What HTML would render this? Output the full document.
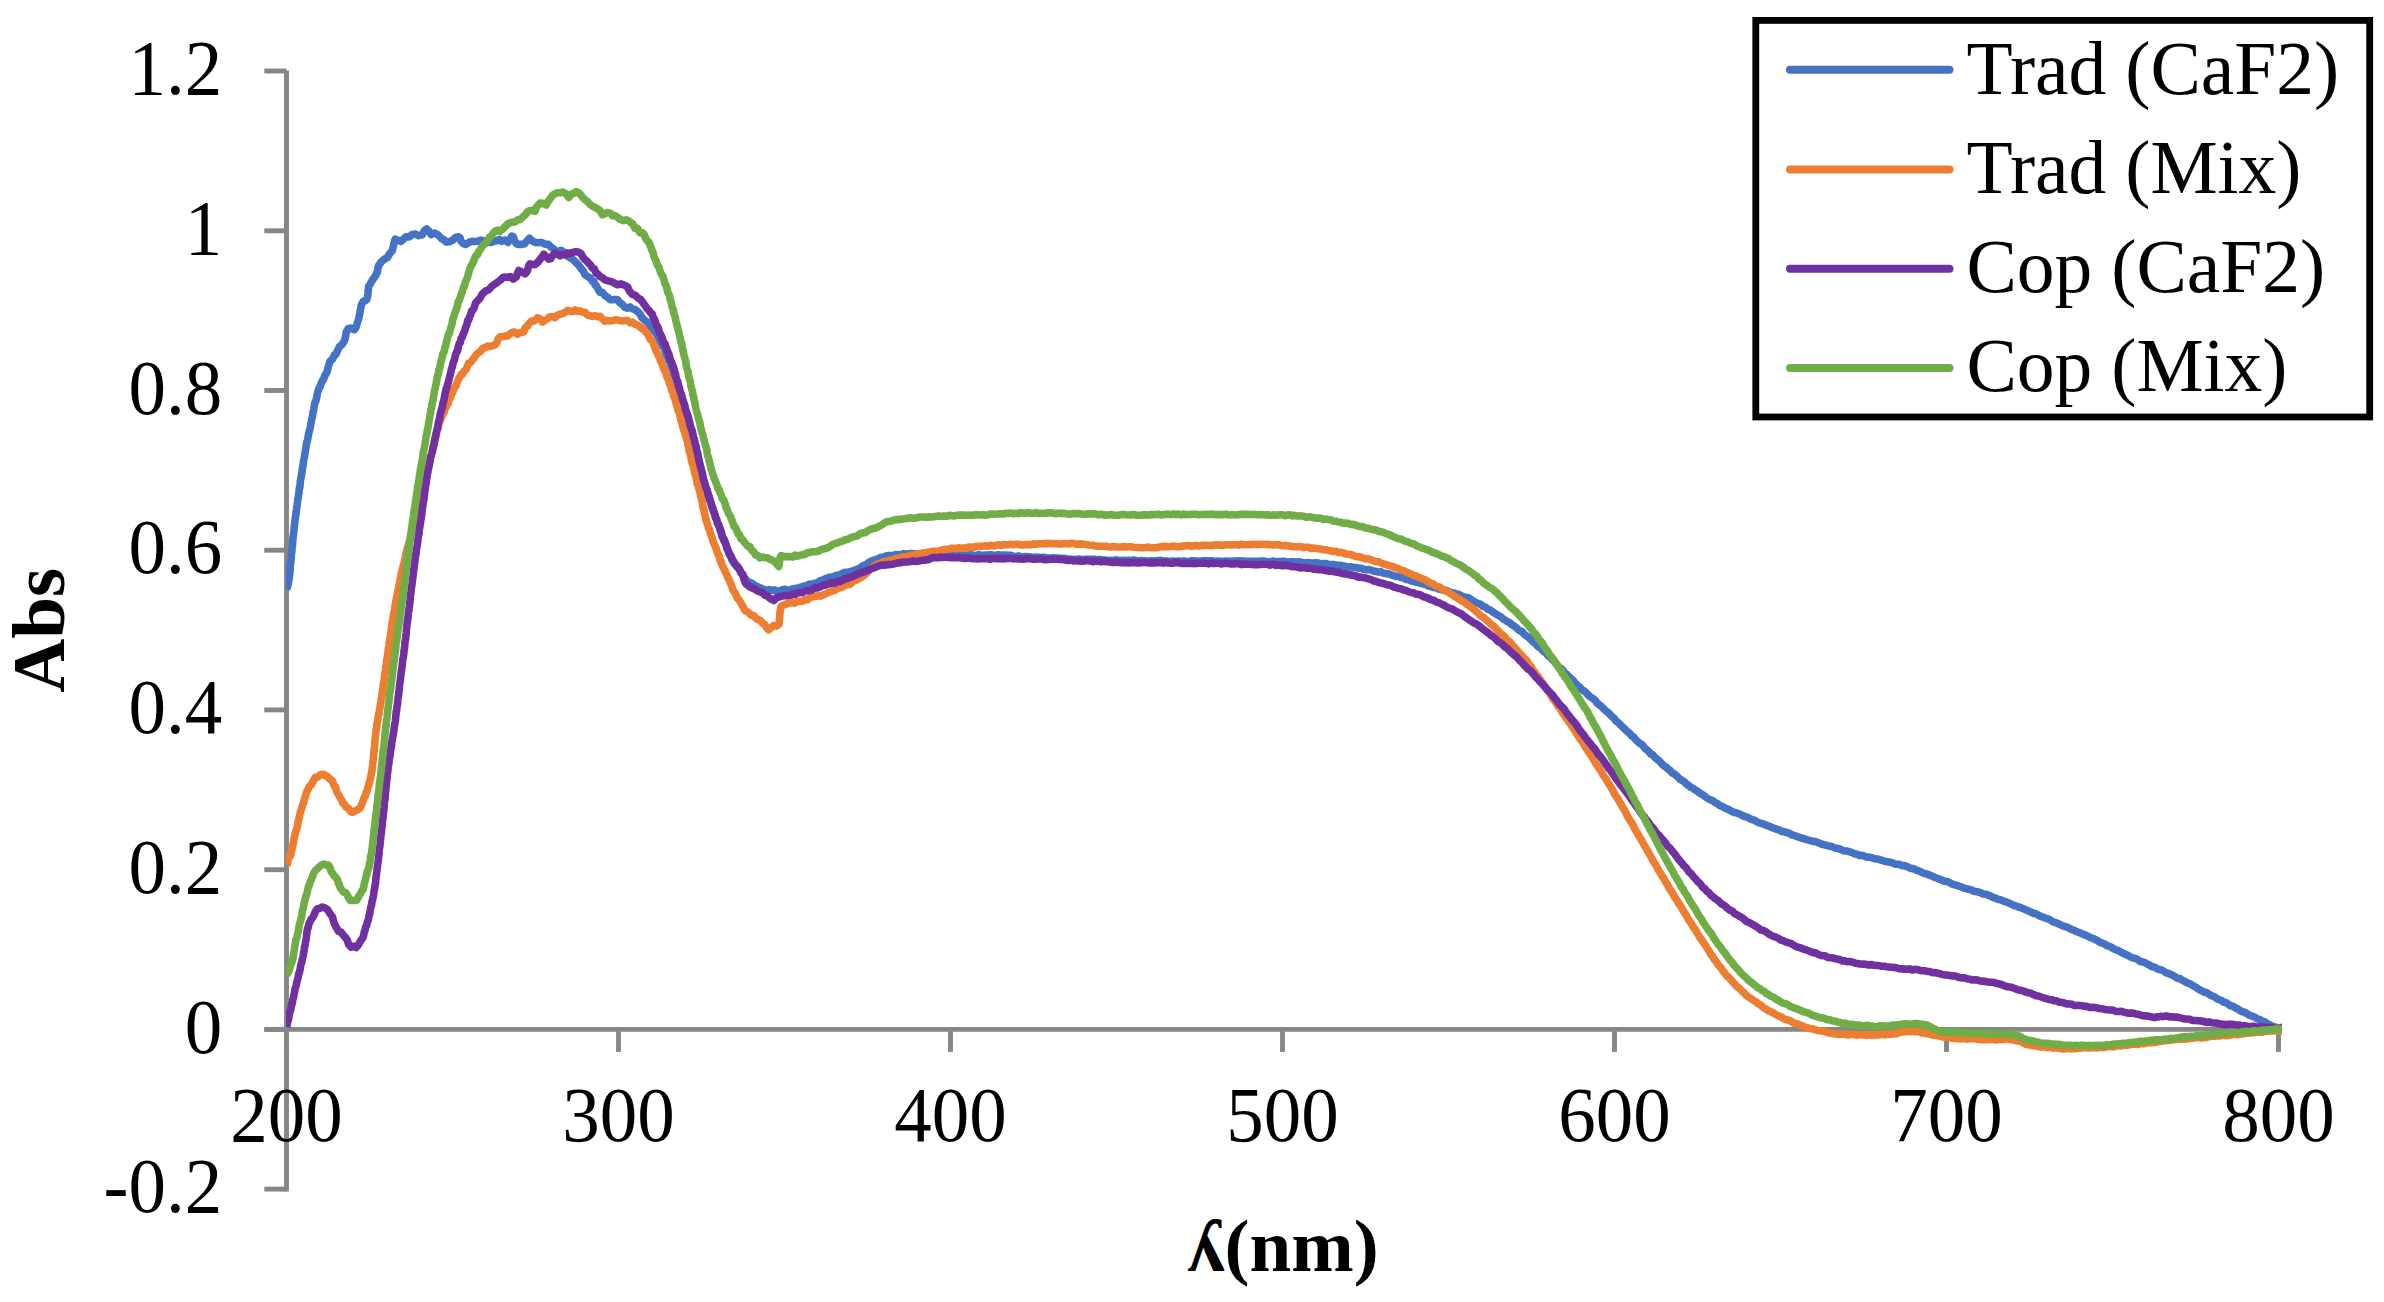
<!DOCTYPE html>
<html lang="en">
<head>
<meta charset="utf-8">
<title>Abs vs wavelength</title>
<style>
html,body{margin:0;padding:0;background:#fff;}
body{width:2384px;height:1302px;overflow:hidden;}
svg{display:block;}
text{font-family:"Liberation Serif",serif;fill:#000;}
.t{font-size:75px;}
.b{font-size:75px;font-weight:bold;}
</style>
</head>
<body>
<svg width="2384" height="1302" viewBox="0 0 2384 1302">
<rect x="0" y="0" width="2384" height="1302" fill="#fff"/>
<g stroke="#868686" stroke-width="4.9" fill="none" stroke-linecap="butt">
<path d="M286.5 70.4 V1191.6"/>
<path d="M264.3 1189.1 H286.5"/>
<path d="M264.3 1029.4 H286.5"/>
<path d="M264.3 869.7 H286.5"/>
<path d="M264.3 709.9 H286.5"/>
<path d="M264.3 550.2 H286.5"/>
<path d="M264.3 390.5 H286.5"/>
<path d="M264.3 230.8 H286.5"/>
<path d="M264.3 71.0 H286.5"/>
<path d="M264.3 1029.4 H2280.9"/>
<path d="M286.5 1029.4 V1051.9"/>
<path d="M618.5 1029.4 V1051.9"/>
<path d="M950.5 1029.4 V1051.9"/>
<path d="M1282.5 1029.4 V1051.9"/>
<path d="M1614.5 1029.4 V1051.9"/>
<path d="M1946.5 1029.4 V1051.9"/>
<path d="M2278.5 1029.4 V1051.9"/>
</g>
<clipPath id="plot"><rect x="286.1" y="0" width="1996" height="1302"/></clipPath>
<g fill="none" stroke-width="7.6" stroke-linejoin="round" stroke-linecap="butt" clip-path="url(#plot)">
<path stroke="#4472C4" d="M286.5 588.5L287.2 587.6L288.1 584.7L289 579.4L289.3 578.1L289.5 575.8L289.7 574L290 571.9L290.2 567.4L290.4 564.4L290.7 563.6L291 559.4L291.2 558.1L291.4 553.9L291.7 552.6L291.9 550.9L292.1 547.1L292.4 546.4L292.6 543.6L292.9 538.7L293.2 536.1L293.4 534.8L293.7 533.3L294 529.3L294.3 526.4L294.6 524.4L294.9 520.8L295.2 518.8L295.6 516.9L295.9 514.5L296.2 511.3L296.6 508.8L296.9 506.3L297.2 504.5L297.6 501.6L297.9 498.5L298.3 497.9L298.6 494.6L299 492.2L299.3 488.4L299.7 487.9L300.1 485L300.4 480.5L300.8 478.6L301.2 477.1L301.5 474.6L301.9 472.8L302.3 468.7L302.8 467L303.2 463.9L303.6 460.3L304.1 458.4L304.5 456.6L304.9 453.9L305.4 450.5L305.9 448L306.4 443.9L307 441.7L307.5 440.4L308.1 436.7L308.7 433.3L309.3 431.6L309.8 429.4L310.4 426.7L310.9 423.5L311.4 420.9L311.9 418.5L312.4 416.7L312.9 413.5L313.4 410.8L313.9 408.6L314.4 405L314.9 402.7L315.6 401.7L316.2 399.7L316.9 396L317.6 392.8L318.4 389.7L319.1 388.1L319.9 387.2L321.1 383.8L322.3 380.8L323.5 379.4L324.8 375.6L325.9 373.9L326.9 372.3L327.9 368.4L328.8 365.2L329.7 362L330.6 360.6L332.5 359.2L334.5 354.7L335.7 354.5L337 351.9L338.2 349.4L339.5 346.7L341.9 344.6L344.2 341.1L345 339L345.7 335.8L346.3 331.8L347.1 331.2L348 328.7L351.1 328.1L354.3 329.7L355.8 327.7L356.9 324.4L358.1 320.5L358.7 318.6L359.3 315.9L359.9 312.8L360.5 309.4L361.2 305.5L361.9 303.8L363.6 301.1L365.4 300.7L366.9 299.1L367.5 296.6L367.9 293.7L368.2 290.7L368.7 286.2L369.4 285.3L371.3 282L373.6 278.4L375.7 275.5L376.6 273.2L377.3 272.4L377.9 268.3L378.6 265.3L379.5 264.5L381.4 261.7L383.6 259.7L385.8 258.3L387.5 257.4L389.2 254.3L390.8 252.2L392.1 251L393 247.6L393.7 244.3L394.3 242L395.2 239.1L397.9 240.3L400.9 241.4L403.4 239.2L405.9 236.8L409 237L412.2 234.6L415.5 234.1L418.5 235.6L422.3 234.8L424.5 230.5L426.7 228.9L428.8 230.9L431.1 234.6L434.1 233L437.4 234.5L439.4 236.3L441.4 238.5L443.7 239.6L446.5 242.1L449.7 241.6L452.5 240.3L456 237.2L458.8 236.9L460.2 238L461.2 241.5L462.6 243L465.6 244.5L468.9 242.4L471.9 241.3L475.2 241.5L477.9 241.2L480.9 240L484 241.8L486.5 240.6L489.1 242.5L491.7 242.2L494.1 241.4L496.9 240.6L499.4 239.3L501.7 241.3L505.1 240L508 242.4L509.9 239.6L511.7 236.1L513.2 236.6L514.9 241.4L516.8 244L519.2 244.4L521.9 244.4L524.3 243.8L526.9 241L529.4 238.2L532.4 241L535.6 242.6L538.7 242.5L541.9 242.5L545.1 244.3L548.2 244.2L550.7 246.8L553.3 248.6L555.7 251L558.3 251.8L560.9 250.3L563.5 251.9L566 253.5L568.4 256.7L570.6 258.1L572.7 259.3L574.7 261L577.3 263.9L579.7 266.4L581.4 269.1L583.1 270.6L585 274.8L587.4 276.4L590.1 277.8L592.5 281.3L593.9 281.4L595 285L596.1 285.6L597.5 287.9L599.8 292.2L602.4 292.4L605 295.7L607.6 297.2L610.2 299.6L612.5 299.7L615 299.5L617.5 299.5L619.8 302.7L622.4 304.4L625 307.4L627.5 308.2L630 306.9L632.5 308.9L635 309.5L637.5 311.5L640 313.9L641.9 317.7L643.8 319.3L645.6 321.3L647.5 322.1L649 324.6L650.5 326.9L652 327.9L653.5 330.5L655 331.8L656.5 333.8L658.1 336.7L659.7 340.9L661.2 342.6L662.5 346.1L663.7 347.4L664.7 349.4L665.6 353.2L666.5 355.9L667.5 356.2L668.5 360.3L669.4 361L670.3 363.3L671.3 367.9L672.5 368.8L673.2 371.3L674 375.5L674.8 376.3L675.7 378L676.5 380.6L677.4 383.4L678.3 387.4L679.2 388.3L680 393.1L680.8 394.1L681.5 398L682.2 400.3L683 401.2L683.8 403.5L684.5 406.7L685.2 408.2L686 412.2L686.8 413.2L687.5 415.7L688.2 420.6L688.9 421.2L689.5 424.3L690.2 426.3L690.9 428.4L691.6 430.1L692.3 434.8L693 437.4L693.6 440L694.3 440.3L695 443.3L695.6 446.6L696.2 450L696.7 451.3L697.3 454.2L697.9 456.7L698.5 458.2L699 461.5L699.6 463.5L700.2 465.8L700.8 467.9L701.3 470.8L701.9 475L702.5 475.9L703.2 479.2L704 481.9L704.8 485.2L705.5 486.4L706.2 488.6L707 491.1L707.8 493.5L708.5 497.2L709.2 499.6L710 500.5L710.8 503.2L711.7 506.2L712.5 508.8L713.3 511.3L714.2 512.9L715 514.7L715.8 517.7L716.7 519.6L717.5 523.1L718.4 524.6L719.4 527.2L720.3 531.1L721.2 532.8L722.2 536.5L723.1 538.2L724.1 541.5L725 542.2L726.1 545.6L727.1 548.9L728.2 549.8L729.2 554.3L730.3 554.8L731.4 558.5L732.5 561.1L734.2 563.5L735.9 564.8L737.7 566.7L739.4 569.8L741 573L742.8 574.4L744.5 578.5L746 579.3L747.5 582.9L749.9 582.3L752.5 583.4L754.8 585.6L757.4 586.5L760 587.9L762.3 588.8L764.6 589.7L767.5 590.4L769.7 589.6L772.1 590.3L774.8 589.9L777.4 591L780 590.8L782.5 589.8L785 589.2L787.5 590.5L790 589.8L792.5 588.9L795 588.4L797.5 588.5L800 587.3L802.5 586.6L805 585.9L807.5 585.1L810 584L812.5 584.4L815 583.2L817.5 582.6L820 580.8L822.5 580.3L825 578.9L827.5 577.8L830 577.1L832.5 577.2L835 575.8L837.5 575.1L840 574.7L842.5 573.4L845 572.4L847.6 572.4L850.2 571.6L852.7 571L855 569.9L857.7 569.1L860.1 567.9L862.5 566L865 565L867.1 563.8L869.1 562.2L871.3 561.2L873.5 560.1L876 559.5L878.3 558.7L880.7 557.3L883.2 557.1L885.9 555.9L888.5 555.5L891 555.5L893.4 555.5L895.8 554.4L898.2 554.7L900.6 554.6L903.2 553.8L906 554L908.2 554.1L910.5 553.5L912.9 553.8L915.4 553.9L917.9 553.8L920.5 554.1L923.2 554.2L926 554.3L928.3 553.9L930.7 553.6L933.1 553.7L935.6 553.8L938.2 554.2L940.8 554.5L943.3 553.8L945.9 554.5L948.5 554.7L951 554.3L953.5 554.6L956 554.3L958.5 554.9L961 554.3L963.5 555.3L966 555.2L968.5 555L971 554.7L973.5 555.4L976 555.5L978.5 554.7L981 555.3L983.5 555.3L986 555.1L988.5 555.1L991 554.8L993.5 555.3L996 555.4L998.5 554.8L1001 555.3L1003.5 555.1L1006 555L1008.5 555.3L1011 555.3L1013.5 556.3L1016 556.6L1018.5 556L1021 556.7L1023.5 556.7L1026 556.6L1028.5 556.9L1031 557L1033.5 557.6L1036 557L1038.5 557.3L1041 557.6L1043.5 557.3L1046 557.9L1048.5 558L1051 558.3L1053.4 557.8L1055.6 558L1057.7 558.3L1059.8 558.1L1061.9 558.6L1064.2 558.3L1066.7 558.8L1069.4 559.1L1072.5 559.2L1076 559.5L1077.9 559.1L1080 559.1L1082.1 559.6L1084.4 559.6L1086.7 559.4L1089.2 559.3L1091.7 559.3L1094.2 559.2L1096.8 560L1099.4 559.4L1102.1 560.1L1104.8 560L1107.5 560.5L1110.2 560.4L1112.9 560.7L1115.6 559.9L1118.3 560.3L1120.9 560.5L1123.5 560.3L1126 560.5L1128.5 560.4L1131 560.6L1133.5 560.1L1136 560.6L1138.5 560.7L1141 560.5L1143.5 560.7L1146 561.1L1148.5 561L1151 560.8L1153.5 561L1156 560.8L1158.5 560.6L1161 560.4L1163.5 560.7L1166 561L1168.5 561.3L1171 561.3L1173.5 561L1176 561.5L1178.5 561L1181.1 561.4L1183.7 560.9L1186.4 561.3L1189.1 561.5L1191.8 560.8L1194.5 560.7L1197.2 561.2L1199.9 561.1L1202.6 560.9L1205.2 560.5L1207.8 560.9L1210.3 560.9L1212.8 560.9L1215.3 561.4L1217.6 561.1L1219.9 561.2L1222 561.4L1224.1 561.2L1226 561L1229.5 561.2L1232.6 561.1L1235.3 561.1L1237.8 561.1L1240.1 560.9L1242.2 561.1L1244.3 561.1L1246.4 561.4L1248.6 561.3L1251 561.3L1253.5 561.3L1256 561.4L1258.5 561.2L1261 561L1263.5 561L1266 561.5L1268.5 561.7L1271 561.4L1273.5 561.1L1276 561.8L1278.5 561.5L1281 561.6L1283.5 561.2L1286 561.8L1288.5 562.1L1291 561.8L1293.5 561.8L1296 562.2L1298.5 561.7L1301 562.3L1303.5 562.9L1306 562.8L1308.5 562.6L1311 563L1313.5 563.1L1316 562.9L1318.5 563.1L1321 563.9L1323.5 563.5L1326 563.6L1328.5 564.6L1331 564.5L1333.5 564.6L1336 565.1L1338.5 565.6L1341 565.3L1343.5 566.1L1346 566.5L1348.5 567L1351 566.8L1353.5 567.5L1356 567.5L1358.5 568.2L1361 568.2L1363.5 569.2L1366 569.7L1368.5 569.6L1371 569.9L1373.5 571.2L1376 571.4L1378.5 572.1L1381 571.8L1383.5 573.3L1386 573.6L1388.5 574L1391 574.7L1393.5 575.7L1396 576.4L1398.5 576.5L1401 577.6L1403.5 577.9L1406 579.4L1408.5 579.6L1411 580.8L1413.5 581.4L1416 582L1418.5 582.5L1421 583.5L1423.5 583.9L1426 584.6L1428.5 586L1431.1 586.4L1433.6 587.5L1436.2 587.7L1438.8 589L1441.3 589.7L1443.8 590.1L1446.3 590.6L1448.7 591.6L1451 592.5L1453.8 593L1456.4 593.9L1459 594.5L1461.5 595.9L1464 597L1466.6 597.3L1469.2 598.2L1472 600.2L1474.1 601.4L1476.3 602.7L1478.5 603.6L1480.8 604.6L1483.1 606.4L1485.4 607.1L1487.7 609.1L1490.1 610L1492.4 611.8L1494.7 613.3L1497 614.7L1499.1 615.8L1501.2 617.2L1503.2 619.1L1505.3 620.1L1507.4 621.6L1509.5 622.6L1511.6 624.6L1513.7 625.6L1515.8 627.4L1517.8 629.2L1519.9 630.9L1522 631.5L1523.9 633.8L1525.8 635.5L1527.8 636.6L1529.7 638.3L1531.6 640.2L1533.5 642.3L1535.5 643.5L1537.4 645.8L1539.3 647.4L1541.2 648.6L1543.2 651.2L1545.1 652.2L1547 654.1L1548.8 656.4L1550.6 657.6L1552.4 659.7L1554.1 661.3L1555.9 663.5L1557.7 665.7L1559.5 667.7L1561.3 668.7L1563.1 670.6L1564.9 673.2L1566.6 674.2L1568.4 676.3L1570.2 677.9L1572 679.6L1573.9 681.4L1575.8 683.8L1577.8 685.6L1579.7 687.3L1581.6 689.2L1583.5 690.7L1585.5 692.1L1587.4 694L1589.3 696.1L1591.2 697.4L1593.2 698.7L1595.1 700.3L1597 702.9L1598.9 704.4L1600.8 705.9L1602.8 708L1604.7 709.8L1606.6 711.5L1608.5 712.9L1610.5 715L1612.4 716.9L1614.3 718.6L1616.2 721.1L1618.2 722.5L1620.1 724.5L1622 726.4L1623.9 728.3L1625.8 730.1L1627.8 732L1629.7 733.3L1631.6 735.9L1633.5 736.9L1635.5 739.5L1637.4 741.3L1639.3 743.1L1641.2 744.1L1643.2 746L1645.1 748.5L1647 750L1648.9 751.7L1650.8 754.1L1652.8 754.9L1654.7 757.2L1656.6 758.9L1658.5 760.3L1660.5 762.3L1662.4 764.4L1664.3 766.3L1666.2 767.1L1668.2 769.3L1670.1 770.5L1672 772.8L1674.1 773.8L1676.2 775.4L1678.2 777.4L1680.3 779.4L1682.4 780.6L1684.5 781.9L1686.6 784.2L1688.7 785.7L1690.8 787.2L1692.8 788.1L1694.9 789.7L1697 790.9L1699.3 792.8L1701.5 794L1703.8 795.5L1706.1 797.4L1708.4 798.9L1710.6 799.9L1712.9 800.8L1715.2 802.6L1717.5 803.7L1719.7 805.5L1722 806.4L1724.5 807.8L1727 808.9L1729.5 809.9L1732 811.4L1734.5 812.5L1737 813L1739.5 814L1742 815.3L1744.5 816.5L1747 817.1L1749.5 818.4L1752 819.7L1754.5 820.2L1757 822L1759.5 822.8L1762 823.5L1764.5 824.4L1767 825.5L1769.5 826.4L1772 827.7L1774.5 828.4L1777 829.4L1779.5 829.9L1782 831.5L1784.5 831.8L1787 832.7L1789.5 833.3L1792 835L1794.5 835.4L1797 836.6L1799.6 837.4L1802.2 838.3L1804.9 839L1807.6 839.9L1810.3 840.7L1812.9 841.4L1815.4 841.5L1817.8 842.6L1820 843.3L1822 844.3L1825.1 845L1827.3 845.6L1829.2 846.2L1831.4 846.4L1834.5 847.9L1836.5 848.2L1838.7 848.7L1841.1 849.5L1843.6 850.8L1846.2 851.1L1848.9 851.6L1851.6 852.4L1854.3 853.7L1856.9 854.3L1859.5 855.4L1862 855.4L1864.5 856.2L1867 857.2L1869.5 857.1L1872 857.8L1874.5 858.8L1877 859.1L1879.5 859.6L1882 860.3L1884.5 861.3L1887 861.8L1889.5 862L1892 862.6L1894.5 863.9L1897 864.3L1899.5 864.4L1902 865.7L1904.5 865.6L1907 866.6L1909.5 867.8L1912 868.5L1914.5 869L1917 870.5L1919.5 871.2L1922 872.4L1924.5 873.5L1927 874L1929.5 875.2L1932 876.1L1934.5 877.4L1937 878.2L1939.3 879.1L1941.7 880L1944 881.1L1946.3 881.3L1948.7 882.1L1951.2 883.6L1953.8 884.6L1956.6 885.3L1959.5 886.3L1961.6 886.9L1963.8 888.1L1966 888.7L1968.3 889.3L1970.7 889.5L1973.2 891L1975.6 891.4L1978.1 891.9L1980.7 892.8L1983.2 894L1985.7 894.2L1988.2 895.1L1990.7 896.1L1993.2 897.5L1995.6 898.2L1998 899.3L2000.4 899.8L2002.7 900.7L2005.1 901.6L2007.5 902.5L2009.8 903.4L2012.2 904.6L2014.6 905.7L2016.9 906.1L2019.3 907.3L2021.6 907.9L2024 908.9L2026.4 910.1L2028.7 911.1L2031.1 912L2033.5 913.4L2035.8 913.6L2038.2 915.1L2040.6 916.4L2043 917.2L2045.3 918L2047.7 918.8L2050.1 919.8L2052.5 921.4L2054.8 922.4L2057.2 923.1L2059.6 924.4L2062 925.5L2064.3 926.4L2066.7 927L2069.1 928.1L2071.4 929.5L2073.8 930.1L2076.2 931.5L2078.6 932.3L2080.9 933.2L2083.3 934.4L2085.7 935.1L2088.1 936.4L2090.4 937.6L2092.8 938.3L2095.2 939.5L2097.6 940.7L2099.9 942.4L2102.3 943.2L2104.7 944L2107 945.8L2109.4 946.2L2111.8 947.6L2114.1 949L2116.5 950L2118.9 950.9L2121.2 952.4L2123.6 953.3L2126 954.6L2128.3 955.5L2130.7 957.2L2133.1 958L2135.4 958.5L2137.8 959.6L2140.2 961.5L2142.5 961.9L2144.9 962.7L2147.3 964L2149.7 965.2L2152 966.7L2154.4 967.1L2156.8 968.5L2159.2 969.6L2161.5 969.9L2163.9 971.4L2166.3 972.9L2168.7 973.5L2171 974.6L2173.4 975.5L2175.6 977.2L2177.9 978.4L2180.1 978.6L2182.3 980.2L2184.5 981.2L2186.8 982.7L2189 983.3L2191.2 984.6L2193.4 985.8L2195.7 987.2L2197.9 988.7L2200.1 990L2202.3 991.1L2204.6 992.2L2206.8 992.7L2209 994.2L2211.4 995.7L2213.7 996.5L2216.1 998L2218.5 999.6L2220.9 1000.1L2223.3 1002L2225.7 1002.5L2228 1004L2230.4 1005.7L2232.8 1006.2L2235.1 1007.7L2237.5 1008.8L2239.8 1010.5L2242.2 1011.7L2244.5 1012.2L2246.9 1013.6L2249.4 1015.2L2251.9 1016.1L2254.6 1017L2257.2 1018.8L2259.8 1019.7L2262.4 1021.1L2265 1021.8L2267.4 1023.9L2269.7 1024.7L2271.9 1026L2273.9 1027L2275.7 1027.1L2277.2 1028.1L2278.5 1028.7L2283.5 1026.8"/>
<path stroke="#ED7D31" d="M286.5 864L287.5 863.5L288.2 859.4L289.2 857.2L290.2 856.4L291.2 852.9L291.7 850.7L292.2 847.4L292.8 845.8L293.3 843.2L293.8 840.5L294.4 836.7L295 834.7L295.6 832.2L296.2 830.6L296.8 828.8L297.4 826.1L298.1 822.4L298.7 819.6L299.4 816.7L300 813.7L300.7 811L301.4 809.5L302.1 806.6L302.8 804.2L303.5 803.1L304.2 799.7L305 797.6L306 794.1L307 791.1L308 789.5L309.1 786.7L310.2 785.6L311.2 785L313.3 781L315.3 777.3L317.4 777.2L320.4 774.8L323.7 774.3L325.8 775.8L328.1 777.1L330.3 779.4L332.4 780.8L333.6 784.4L334.6 786.6L335.6 786.9L336.5 790.9L337.5 793.2L338.6 794.8L340 797.5L341.6 799.9L343.1 803.4L344.7 804.4L346.1 807.1L348.3 808.2L350.4 811.3L352.4 812.2L355.6 810.7L358.6 808.9L359.9 808.2L361.2 805.7L362.4 802.6L363.6 799.2L364.4 797.3L365.3 796L366.2 792.1L367 791.4L367.8 787.1L368.6 786.1L369.2 782.3L369.7 782L370.3 779.3L370.8 776.5L371.3 774.1L371.8 771.5L372.3 767.7L372.6 765.1L372.8 762.7L373 761.2L373.3 759.9L373.5 756.5L373.8 752.5L374 751.7L374.3 748.8L374.6 746.5L374.8 741.9L375.1 740.6L375.3 736.2L375.6 735.2L375.9 731.7L376.2 729.3L376.6 728.2L377 723.6L377.4 722.1L377.8 720.5L378.2 716.6L378.6 714.1L379.1 713.5L379.5 709.9L379.9 708.2L380.4 704L380.8 702.3L381.2 699.1L381.6 698.1L381.9 694.2L382.3 694L382.6 689.1L383 688.5L383.3 684.1L383.7 682.2L384.1 681.1L384.4 676.8L384.8 674.3L385.1 673.1L385.5 669.7L385.8 666.3L386.2 666.3L386.6 661.6L386.9 658.8L387.3 657L387.6 655.2L388 652.9L388.3 648.7L388.7 646.8L389.1 643.4L389.4 642L389.8 640.3L390.1 637.8L390.5 635.8L390.8 633L391.2 630.9L391.6 627.8L392 624.5L392.5 621.2L392.9 619.7L393.3 616.2L393.8 613L394.2 611.4L394.6 610L395 605.7L395.4 604.6L395.8 601.9L396.2 600L396.8 596.1L397.3 595.5L397.8 591.2L398.3 589.7L398.8 586.9L399.3 583.5L399.8 582.6L400.3 579.1L400.8 576.3L401.3 573.8L401.8 571.6L402.4 568.9L402.9 567.7L403.4 564.9L404 563.5L404.6 560.8L405.2 558.4L405.9 553.8L406.5 551.7L407.2 548.5L407.9 546.8L408.6 544.2L409.3 542L410 539L410.7 535.1L411.4 532.8L412.1 530.3L412.8 526.2L413.5 523.5L414.2 521.7L414.8 518.3L415.5 517.3L416.2 513.2L416.9 510.1L417.6 507.6L418.3 505.1L419 502.5L419.6 500.7L420.3 497.9L421 494.9L421.6 493.1L422.3 489.3L423 488.5L423.6 486.1L424.3 483L424.9 479.7L425.6 477.1L426.3 474.6L426.9 470.6L427.6 468.9L428.2 466.6L428.9 463.2L429.5 460.5L430.1 460.1L430.7 456.7L431.3 454.7L432 453.1L432.8 449.3L433.3 446.3L433.9 445.8L434.5 441.7L435.1 438.2L435.8 437.3L436.4 433.1L437.1 431L437.7 429.9L438.4 427.1L439 423.3L440 421.5L441 418.9L441.9 416.8L442.9 414L443.9 412.7L445 408.9L446 407.1L447 404.8L448.1 403.7L449.2 398.9L450.3 398.1L451.4 394.1L452.5 392.7L453.7 389.6L454.9 387.2L456.1 385.5L457.3 382.1L458.6 379L460 376.5L461.3 374.2L462.7 374L464.1 371.2L465.6 369.9L467.1 367L468.5 363.2L470 362.9L471.7 361.1L473.4 358.8L475.2 356.2L476.9 354L478.5 352.6L480 352L482.7 348.4L485.1 347.5L487.5 346.1L490.1 346.5L492.7 345.6L495 344.9L496.8 342.7L498.2 338.8L500 336.8L502.4 336.8L505.1 336.1L507.5 336L510 333.9L512.5 332.3L514.8 332.1L517.4 334.2L520 332.7L521.8 332.3L523.6 332L525.4 327.5L527.5 326L529.4 323.2L531.6 321.1L533.7 321.1L535.8 319.7L537.5 317.9L540.2 318.9L542.5 322L544.9 320.3L547.6 318.6L550 316.7L552.5 316.6L555 317.6L557.3 315.2L559.9 314.2L562.5 313.7L565 312.4L567.5 310.4L570 311.2L572.5 311.4L575 309.9L577.5 311.5L580 310.8L582.5 312.1L585 312.3L587.5 315L590 315.8L592.5 316.4L595 315.8L597.5 316.8L600 316.3L602.5 319L604.9 321.2L607.5 320.4L610.3 321.1L613.2 320.4L616.2 319.8L619.2 320.4L622.2 320.9L625 320.5L627.6 320.5L630 322.7L632.5 322.1L635 324.1L637.5 325L640 326.9L641.9 328.7L643.8 328.8L645.7 331.9L647.5 333.5L648.8 336.2L650.1 339.1L651.3 340.4L652.5 341.2L653.8 344.9L654.9 347.8L656 350.6L657.1 352.5L658.2 355.5L659.4 356.1L660.5 361.2L661.5 362.9L662.5 365L663.5 368.2L664.5 370.7L665.5 371.2L666.5 375.7L667.5 378.2L668.4 379.1L669.2 382.8L670 384.8L670.9 386.2L671.7 390.3L672.6 391.1L673.4 395L674.3 397.3L675 399.2L675.8 402.4L676.5 404.6L677.3 406.5L678.1 411.1L678.9 411.3L679.6 413.7L680.4 417.5L681.1 421L681.8 422.9L682.5 425.7L683.2 427.5L683.9 430.4L684.6 431.8L685.2 434L685.9 437L686.6 438.3L687.3 441.1L688 445.7L688.6 446.4L689.2 450.3L689.8 452.9L690.4 454.5L691 457.8L691.6 460.7L692.2 463.6L692.9 464.3L693.5 467L694.1 470L694.6 472.6L695.2 474.5L695.9 476.6L696.6 480.7L697.3 484.3L698 485.2L698.7 488L699.3 490L700 492.5L700.6 496L701.2 497L701.8 500.4L702.3 502.5L702.8 505.1L703.3 508.6L703.9 508.9L704.4 513.3L704.9 514.5L705.5 517.9L706.2 520.8L706.9 522.9L707.7 524.8L708.5 528.5L709.4 529.1L710.3 533L711.2 534.9L712.1 537.7L713 541L713.8 543.2L714.7 545.4L715.6 547.2L716.5 549.5L717.4 552.6L718.3 554.5L719.3 557L720.2 561.1L721.2 561.6L722.2 565.8L723.3 567.3L724.5 569.9L725.6 572.4L726.7 574.4L727.9 577.8L729 579.4L730 582.4L731.3 584.8L732.6 588.9L733.8 591.5L735 592.7L736.3 595.5L737.5 598.5L739 599.9L740.4 602.1L741.9 605L743.4 607.2L745 610.4L747.1 611.7L749.3 613.2L751.6 615.4L753.8 615.6L756 618.4L758.3 619.6L760.5 620.7L762.5 623.2L764.8 624.6L766.9 628.2L768.8 629.7L771.4 627.4L773.8 625.4L776.5 626.1L778.8 624.3L779.3 622.3L779.5 619.7L779.7 616.7L779.9 613.1L780.2 610.6L780.8 607.1L782.5 605.5L784.7 604.8L787.5 603.5L789.6 603L792.1 602.1L794.7 603.1L797.4 601.5L800 601.2L802.5 601.2L805 599.2L807.5 599.8L810 597.6L812.5 596.7L815 596.5L817.5 595.8L820 596.1L822.5 595.2L825 594.2L827.5 592.8L829.9 592L832.3 590.6L834.8 590.4L837.5 588.6L839.9 587.5L842.4 587L845 585.3L847.6 584.5L850.1 584.2L852.5 581.9L855.2 580.6L857.8 579.3L860.2 577.9L862.6 576.6L865 574.7L867.1 572.9L868.8 570.7L870.7 568.6L872.9 567L876 564.8L877.9 564L880.1 563.6L882.5 562L885 561.3L887.6 561.3L890.3 560.1L893.1 559.8L895.8 558.4L898.4 558.2L901 557.8L903.5 556.7L906 556.6L908.5 555.9L911 555.2L913.5 555.3L916 554.2L918.5 553.8L921 553.5L923.5 552.8L926 552.8L928.5 552.2L931 551.7L933.5 551.3L936 551.3L938.5 550.9L941 550.4L943.5 549.7L946 549.3L948.5 549.1L951 548.3L953.5 548.2L956 548.8L958.5 547.8L961 548.4L963.5 548L966 548.1L968.5 547.1L971 547.1L973.5 547.5L976 546.5L978.5 546.4L981 546.4L983.5 546L986 545.8L988.5 546.1L991 545.3L993.5 546L996 545.5L998.5 544.7L1001 545.4L1003.5 544.6L1006 544.8L1008.5 544.8L1011 544.3L1013.5 544.7L1016 544.2L1018.5 544.3L1021 545L1023.5 544.9L1026 544.5L1028.5 544.6L1031 544.7L1033.5 543.9L1036 544.2L1038.5 543.8L1041 543.7L1043.5 543.6L1046 543.6L1048.5 543.4L1051 543.5L1053.5 543.6L1056 543.8L1058.5 544L1061 544L1063.5 543.8L1066 543.6L1068.5 544L1071 543.3L1073.5 543.3L1076 544.1L1078.5 544.1L1081 543.9L1083.5 544.3L1086 544.5L1088.5 544.9L1091 545.2L1093.5 545.4L1096 546.1L1098.5 546.3L1101 546.3L1103.5 546.3L1106 546.3L1108.5 546.8L1111 547.1L1113.5 546.4L1116 547L1118.5 547L1121 547L1123.5 546.5L1126 547.1L1128.5 546.8L1131 546.8L1133.5 547.3L1136 547.5L1138.5 547.5L1141 547.7L1143.5 547.7L1146 547.5L1148.5 547.1L1151 547.8L1153.5 547.8L1156 547.7L1158.5 547.3L1161 546.6L1163.5 546.6L1166 546.4L1168.5 546.7L1171 546.5L1173.5 546L1176 546.7L1178.5 546.6L1181 546.4L1183.5 545.9L1186 545.7L1188.5 545.5L1191 546.1L1193.5 545.9L1196 545.4L1198.5 546L1201 545.6L1203.5 545.4L1206 545.3L1208.5 545.6L1211 545.2L1213.5 545.4L1216 544.8L1218.5 545.3L1221 544.9L1223.5 545.5L1226 544.7L1228.5 544.8L1231 544.9L1233.5 544.7L1236 544.8L1238.5 545.1L1241 544.3L1243.5 544.8L1246 544.7L1248.5 544.8L1251 544.4L1253.5 544.5L1256 544.4L1258.5 544.5L1261 544.3L1263.5 544.3L1266 544.6L1268.5 544.4L1271 544.8L1273.5 545L1276 544.8L1278.5 544.8L1281 545.4L1283.5 545.8L1286 545.4L1288.5 546L1291 546.2L1293.5 546.7L1296 546.7L1298.5 546.6L1301 546.7L1303.5 547.6L1306 547.3L1308.5 547.3L1311 548.4L1313.5 548L1316 548.4L1318.5 548.7L1321 549L1323.5 549.8L1326 549.8L1328.5 550.4L1331 550.8L1333.5 551.6L1336 551.3L1338.5 552.4L1341 552.4L1343.5 553L1346 554L1348.5 554.3L1351 554.6L1353.5 555.6L1356 556.5L1358.5 556.8L1361 557.3L1363.5 558.2L1366 558.9L1368.5 558.8L1371 559.6L1373.5 560.9L1376 561.6L1378.5 561.7L1381 563L1383.5 564L1386 564.5L1388.5 565.5L1391 566.2L1393.5 566.9L1396 567.8L1398.5 568.6L1401 570.2L1403.5 570.6L1406 572.1L1408.5 572.9L1411 574L1413.5 575.5L1416 576L1418.5 577.2L1421 578.2L1423.5 579.2L1426 580.4L1428.3 581.8L1430.6 583.3L1432.9 583.7L1435.3 585.8L1437.6 586.7L1439.9 587.3L1442.2 589.2L1444.5 590.1L1446.7 591.5L1448.9 592.3L1451 594L1453.2 595.4L1455.4 596.9L1457.5 598L1459.5 599.5L1461.5 600.8L1463.5 601.7L1465.5 602.9L1467.6 604.9L1469.8 606.1L1472 607.8L1473.8 609.4L1475.6 611.1L1477.5 612.7L1479.4 614.3L1481.3 616.2L1483.3 617L1485.2 619.1L1487.2 620.4L1489.2 622.7L1491.1 624.2L1493.1 625.7L1495.1 627.7L1497 629.9L1498.8 631.4L1500.6 633.6L1502.5 634.8L1504.3 636.7L1506.2 639.1L1508.1 640.7L1509.9 642.1L1511.8 644.6L1513.6 646.1L1515.4 648.6L1517.1 650.2L1518.8 652.2L1520.4 654.1L1522 655.5L1523.9 658.2L1525.7 659.5L1527.4 662L1529.1 664.6L1530.7 666L1532.3 668.8L1533.8 671.2L1535.4 673.1L1536.9 675.4L1538.4 676.8L1540 679.4L1541.6 681.7L1543.1 683.8L1544.7 686L1546.2 688.6L1547.7 690.2L1549.2 692.3L1550.7 695.1L1552.3 697.7L1553.8 699.8L1555.3 701.9L1556.8 703.8L1558.2 706.5L1559.6 707.6L1560.9 709.9L1562.3 712.4L1563.6 714.5L1565 716.1L1566.4 718.6L1567.7 719.9L1569.2 722.5L1570.6 724.1L1572.1 726.5L1573.6 728.8L1575 730.6L1576.4 733.2L1577.8 735.4L1579.3 737.5L1580.8 740.1L1582.3 741.8L1583.8 744.6L1585.3 746.9L1586.9 749.1L1588.3 751.8L1589.8 753.3L1591.2 755.8L1592.6 757.9L1593.9 759.9L1595.5 763L1597 765L1598.5 767.3L1600 769.5L1601.4 771.7L1602.7 774.4L1604.1 776.5L1605.4 778.5L1606.8 780.2L1608.1 782.8L1609.5 784.6L1610.9 787.1L1612.2 789.1L1613.6 792L1614.9 794.5L1616.3 796.5L1617.6 798.6L1618.9 800.6L1620.2 803L1621.6 805.3L1622.9 807.6L1624.2 809.7L1625.5 811.9L1626.8 814.7L1628.1 817.2L1629.4 819.3L1630.7 821.4L1632 823.1L1633.3 825.7L1634.6 828.5L1635.9 830.9L1637.2 832.8L1638.5 835.1L1639.8 837.5L1641.1 839.3L1642.4 842L1643.7 844L1645 846.7L1646.3 848.6L1647.6 851.1L1648.9 853.2L1650.2 855.5L1651.5 857.7L1652.8 860.5L1654.1 862.5L1655.5 864.5L1656.8 866.8L1658.1 869.5L1659.5 871.6L1660.8 873.8L1662.2 876.4L1663.5 877.8L1664.9 880.6L1666.2 882.9L1667.6 885L1669 887.7L1670.3 890L1671.7 891.7L1673.1 894.2L1674.4 896.6L1675.8 898.8L1677.2 900.7L1678.6 903.4L1680 905.2L1681.4 907.3L1682.8 910.1L1684.2 912.3L1685.6 914.4L1687.1 916.7L1688.5 919.5L1689.9 921.6L1691.4 923.5L1692.8 926.3L1694.2 928.2L1695.7 930.3L1697.1 932.9L1698.6 935.3L1700.1 937.7L1701.6 939.8L1703.1 942.2L1704.6 944.3L1706.1 946.3L1707.6 949L1709.1 951L1710.6 954.1L1712.1 955.7L1713.5 958.1L1714.9 960.2L1716.6 962L1718.2 965L1719.9 966.6L1721.5 968.5L1723 971L1724.6 972.8L1726.1 975.2L1727.6 976.5L1729.1 977.9L1731.3 980.2L1733.3 982.5L1735.4 985L1737.4 987.1L1739.4 988.3L1741.4 990.4L1743.5 992.4L1745.5 994.5L1747.6 996.2L1749.6 997.7L1751.7 999L1753.7 1000.5L1755.8 1001.6L1757.8 1003.5L1759.8 1004.6L1761.9 1006.1L1764 1008L1766 1009.1L1768.5 1010.7L1770.9 1011.8L1773.4 1013L1775.8 1014.5L1778.3 1015.8L1780.8 1016.6L1783.2 1018.4L1785.7 1019.6L1788.1 1019.9L1790.6 1021L1793.1 1022.7L1795.5 1023.6L1798 1024.1L1800.4 1025.4L1802.9 1025.9L1805.3 1027.4L1807.8 1027.9L1810.2 1028.6L1812.7 1028.9L1815.1 1029.8L1817.6 1030.4L1820 1030.8L1822.5 1031.1L1824.9 1031.6L1827.4 1032.5L1830.5 1033.3L1833.6 1033.7L1836.6 1033.9L1839.7 1034.5L1842.6 1034.1L1845.4 1034.3L1848.4 1034.9L1852 1034.3L1854.1 1034.4L1856.5 1035.2L1858.9 1034.7L1861.5 1034.7L1864.2 1034.9L1866.8 1035.4L1869.4 1034.6L1872 1035.4L1874.5 1034.7L1877 1034.9L1879.5 1034.7L1882 1034.2L1884.5 1034.9L1887 1033.9L1889.5 1034.3L1892 1034.2L1894.5 1033.5L1897.1 1033.6L1899.7 1032.3L1902.3 1031.9L1904.9 1031.8L1907.4 1031.1L1909.7 1031.6L1912 1031.2L1914.7 1031.6L1917.2 1031.4L1919.5 1031.6L1921.8 1033L1924.3 1033L1927 1033.7L1929.2 1033.9L1931.5 1034.8L1933.9 1035.2L1936.4 1035.4L1938.9 1035.8L1941.5 1036.5L1944.2 1037.4L1947 1037.2L1949.3 1037.5L1951.7 1038.1L1954.1 1038.3L1956.6 1038.6L1959.2 1038.6L1961.8 1038.9L1964.3 1038.3L1966.9 1039.2L1969.5 1038.4L1972 1038.6L1974.5 1038.7L1977.1 1039.4L1979.7 1039.2L1982.3 1039.7L1984.9 1039.8L1987.5 1039.8L1990 1039.5L1992.4 1039.3L1994.8 1039.9L1997 1039.7L2000 1039.2L2002.7 1039.6L2005.3 1039L2007.8 1039L2010.2 1039.6L2012.6 1039.9L2015 1040.4L2017.8 1040.9L2020.4 1041.2L2023.1 1042.9L2025.7 1044.2L2028.3 1044.8L2031.1 1045.4L2033.6 1045.6L2036.1 1045.8L2038.6 1046.6L2041.2 1047.1L2043.8 1046.4L2046.3 1047.3L2048.9 1047.6L2051.3 1047.3L2053.5 1048.1L2055.6 1047.6L2057.8 1048L2060.3 1048.5L2063.2 1048.9L2066.7 1048.6L2068.7 1048.2L2070.9 1049L2073.2 1048.6L2075.6 1048.7L2078.1 1048.1L2080.7 1048.1L2083.4 1047.8L2086.1 1047.8L2088.9 1047.9L2091.6 1047.7L2094.4 1047.8L2097.1 1047.9L2099.7 1047.2L2102.3 1047.6L2104.8 1047.2L2107.4 1046.7L2109.9 1046.3L2112.4 1046.9L2115 1046.4L2117.5 1045.5L2120.1 1045.9L2122.6 1045.4L2125.1 1045.2L2127.7 1045.3L2130.2 1044.5L2132.7 1044.3L2135.3 1044.3L2137.8 1044.4L2140.3 1043.3L2142.9 1043.8L2145.4 1043.4L2148 1042.6L2150.5 1042.8L2153.1 1042.4L2155.6 1042.2L2158.1 1041.7L2160.7 1041.2L2163.2 1041.1L2165.8 1040.5L2168.3 1040.5L2170.9 1040.2L2173.4 1039.6L2175.9 1039.5L2178.5 1039.4L2181 1039.2L2183.6 1039.1L2186.1 1039.1L2188.7 1038.4L2191.2 1038.4L2193.7 1038L2196.3 1037.7L2198.8 1037.4L2201.4 1038L2203.9 1037.8L2206.5 1037.5L2209 1036.6L2211.5 1036.3L2214.1 1036.1L2216.6 1036L2219.2 1036L2221.7 1035.3L2224.3 1035.5L2226.8 1035.6L2229.4 1035.5L2231.9 1034.6L2234.4 1034.2L2237 1034.8L2239.5 1034.2L2242 1033.9L2244.5 1033.5L2247.3 1033.3L2250.2 1033L2253.2 1032.6L2256.3 1032.3L2259.4 1032.2L2262.5 1032.2L2265.4 1031.3L2268.3 1031.1L2271 1030.9L2273.4 1031L2275.6 1030.6L2277.5 1030.7L2279 1030L2284 1030.9"/>
<path stroke="#7030A0" d="M286.7 1027L287 1025.6L287.5 1023.1L288 1021.4L288.6 1018.8L289.3 1014.5L289.9 1011.5L290.6 1010.7L291.2 1006.5L291.7 1004L292.3 1003.5L292.8 999.6L293.4 998L294 994.5L294.5 992.4L295.1 988.6L295.6 987.4L296.2 985.6L296.8 982L297.5 980L298.1 977.4L298.8 973.3L299.4 972.7L300 969.8L300.6 966.6L301.2 963.4L301.7 963.1L302.2 959.5L302.7 957.7L303.2 955.6L303.6 952.7L304.1 950.8L304.5 946.9L305 945.5L305.5 942L305.9 940.6L306.3 937.7L306.8 933L307.2 930.4L307.7 928.2L308.2 927.9L308.7 924.5L309.9 922L311.2 919.1L312.5 917.8L313.7 915.7L314.9 912.8L315.9 910.8L317.4 908.7L319.7 908.3L322.4 907L324.9 907.8L327.6 909.6L329.9 913.5L331.2 915.2L332.5 916.9L333.7 921.8L334.9 924.7L336.2 927.4L337.3 929L338.6 931.5L341 932L343.6 935.6L344.9 936.8L346.1 938.5L347.4 940.3L348.6 944.3L351.1 947.3L353.6 946.1L356.1 947.6L358.6 944.5L359.9 942L361.1 940.1L362.4 938.6L363.6 935.7L364.3 931.5L365 930.7L365.7 926.8L366.5 926L367.2 922.3L367.9 921L368.6 918.4L369.2 915L369.7 913.9L370.3 909.8L370.9 906.8L371.5 905.6L372 901.6L372.6 899.4L373.1 897.3L373.6 895.1L374 891.6L374.4 889L374.7 888.8L375 884.9L375.4 884.1L375.7 881.5L376 877.6L376.3 875.2L376.6 872.7L377 870.4L377.3 867.5L377.6 865.1L377.9 862.9L378.2 861.4L378.5 857.8L378.8 855.1L379.1 853.4L379.3 849.6L379.6 847.3L379.9 846.5L380.2 842.7L380.5 840.2L380.8 836.2L381.1 834.7L381.4 832.7L381.6 828.8L381.9 827.9L382.2 825.4L382.4 821.4L382.7 820.4L382.9 817.5L383.2 815.5L383.5 812.1L383.7 810.5L384 808.1L384.3 803.7L384.5 801.3L384.8 800.4L385.1 798.6L385.3 794.3L385.6 792.4L385.8 790.4L386 787.3L386.3 785L386.5 782.4L386.8 780.1L387 778.3L387.3 775L387.6 772.7L387.9 771.1L388.2 766.5L388.6 765.2L388.9 763.3L389.2 759.8L389.6 757.2L390 756.3L390.3 752.3L390.7 749.6L391.1 747.7L391.5 745.9L391.9 741.7L392.3 739.7L392.7 737.2L393.1 735.9L393.5 732.3L393.9 730.9L394.3 726.6L394.7 724.5L395 722.9L395.4 720.9L395.7 717.3L396 714.1L396.3 711.3L396.7 709.9L397 706.5L397.3 705.6L397.6 703.2L397.9 699L398.2 696.8L398.5 695.7L398.8 692.8L399.1 690.8L399.4 687.1L399.7 684L400 682L400.3 680.8L400.6 676.9L400.9 674.6L401.2 672.3L401.6 669.9L401.9 667.4L402.2 666.2L402.5 661.8L402.8 658.9L403.1 658.8L403.4 656.2L403.8 653.9L404.1 650L404.4 648.8L404.7 646.2L405 641.8L405.3 640.7L405.6 638.5L405.9 635.6L406.2 632.8L406.4 629.7L406.7 627.4L407 624.6L407.3 621.7L407.6 620.5L407.9 617.2L408.2 616.1L408.5 611.6L408.8 611.3L409.1 608.2L409.4 606.2L409.7 603.6L410 601L410.3 597.8L410.6 593.8L410.9 593.2L411.2 589.2L411.5 587L411.9 585.3L412.2 582.4L412.5 579.5L412.8 578.3L413.1 574.9L413.5 571.7L413.8 568.9L414.1 568L414.4 564.5L414.7 562.8L415.1 559.3L415.4 556.5L415.7 555.1L416.1 553.1L416.4 548.8L416.8 547.9L417.2 545.7L417.6 542.9L417.9 540.5L418.3 536L418.7 535.2L419 533.4L419.4 528.9L419.8 527.1L420.1 524.6L420.5 522.8L420.9 519.9L421.3 517.4L421.6 515.8L422 511.4L422.3 509L422.7 506.7L423 504.1L423.4 501.3L423.7 501.1L424.1 498.2L424.5 493.6L424.8 492L425.2 489L425.5 486.4L425.9 484L426.3 482.3L426.6 479.8L427 476.9L427.4 474.2L427.9 471.7L428.4 468.5L428.9 467.1L429.4 465L429.9 461.7L430.4 458.5L430.9 456.4L431.4 454.6L432 452.8L432.5 450.9L433.1 447.4L433.6 445.9L434.2 442.8L434.7 440L435.2 437.4L435.8 435.2L436.3 433.2L436.9 429.9L437.5 428L438 424.8L438.6 421.6L439.2 419.8L439.7 417.6L440.3 413.5L440.9 411.9L441.4 409.5L442 408.3L442.5 406.1L443.2 401.9L443.8 400.5L444.4 397.6L445.1 393.6L445.7 391.6L446.3 388.2L446.9 387.6L447.5 384.8L448.1 383L448.8 380.4L449.4 377.7L450 375.6L450.8 372.4L451.5 368.6L452.2 367.2L453 363.2L453.8 361L454.5 360.2L455.2 355.9L456 353.6L456.8 351.3L457.5 351L458.4 346.3L459.4 343.1L460.3 342.6L461.2 338L462.2 337.3L463.1 334.3L464.1 332.2L465 330L465.9 326.5L466.9 324.6L467.8 320.1L468.8 319.6L469.7 316.5L470.6 314.8L471.6 311L472.5 310.6L474 308.1L475.5 303.2L477 301.4L478.5 299.7L480 298.4L481.8 294.6L483.6 292.6L485.4 291.1L487.5 290.3L489.3 289.1L491.3 286.7L493.4 285.1L495.5 283.7L497.5 282.1L500.1 280.4L502.7 277.6L505.2 277.1L507.5 277.4L510.3 276.6L512.9 279.1L515 277.9L516.5 276.7L517.5 273.1L518.8 270.5L521.8 271.9L525 273.8L526.3 272.7L527.4 270.8L528.6 266.1L530 263.9L532.4 264.5L535 264.6L537.5 262.5L539.7 259.8L541.8 257.3L543.8 254.2L546.3 256.8L548.8 259.2L550.7 258.7L552.8 255.3L555 253.1L557.4 254.3L560 255.8L562.5 254.5L565 254.9L567.4 253L570 253.4L572.9 252.4L576 251.6L578.8 252.3L581 253.6L582.9 257.3L585 259.7L586.8 261L588.7 263.3L590.6 265.1L592.5 268.2L594.4 268.8L596.2 273.4L598.1 274.3L600 276.5L602.4 277.7L604.8 279.8L607.5 280.8L609.9 281.2L612.4 282L615 283.6L617.5 284.7L620.7 283.9L623.7 284.8L626.2 286.2L627.7 287.1L628.6 289.3L630 291.8L632.2 294.3L634.9 295.1L637.5 297.4L639 298.8L640.6 299.3L642.1 301.4L643.6 303.7L645 305.4L647.2 308.8L649.2 310.8L651.2 313.5L652.2 313.8L653.2 317.7L654.3 318.8L655.3 321.8L656.4 325.3L657.5 326.4L658.5 328.8L659.6 333.1L660.6 334.2L661.7 336.8L662.8 340L663.9 342.8L665 343.7L665.9 346.9L666.9 349.5L667.8 352.1L668.8 353.8L669.7 357.2L670.6 360.8L671.6 362L672.5 365.1L673.2 366.3L674 369.1L674.8 372.6L675.5 373.6L676.2 378.2L677 380.8L677.8 381.3L678.5 386.1L679.2 387.2L680 390.7L680.8 393.2L681.5 394.4L682.2 397.9L683 400.3L683.8 403.1L684.5 404.2L685.2 408L686 411L686.8 412.8L687.5 415.1L688.2 416.4L688.9 419.8L689.5 421.8L690.2 425.2L690.9 427.5L691.6 429.7L692.3 431.2L693 435L693.6 437.5L694.3 439L695 443.5L695.6 445.3L696.2 446.3L696.7 450.9L697.3 451.4L697.9 454.5L698.5 458.2L699 460.5L699.6 463L700.2 465.8L700.8 467.8L701.3 469.9L701.9 471.9L702.5 473.9L703.2 478.4L704 481.2L704.8 483.2L705.5 486.3L706.2 487.8L707 489.9L707.8 492.6L708.5 496.2L709.2 496.5L710 500L710.8 502L711.7 505.9L712.5 507.4L713.3 509.9L714.2 512.6L715 515.4L715.8 518.4L716.7 519.8L717.5 523.4L718.4 524.2L719.4 527.2L720.3 529.3L721.2 531.9L722.2 536L723.1 538.3L724.1 539.4L725 541.8L726.1 545L727.1 548.4L728.2 551.2L729.2 553.6L730.3 555.7L731.4 557L732.5 559.8L733.9 561.7L735.4 564.6L736.9 566.7L738.4 567.8L739.9 569.9L741.2 573.1L742.6 574.1L743.7 578.5L744.8 581.4L746 584L747.5 584.7L749.7 586.9L752.3 588.1L754.9 589.1L757.5 591L760.1 591.9L762.7 592.8L765.3 595.5L767.5 596.2L770.9 598.9L773.8 600.5L776.5 597.4L780 596.7L782.1 596.1L784.5 595.6L787.2 595.6L789.9 595.3L792.5 594.4L795 594.5L797.5 592.8L800 592.8L802.5 592.3L805 591.1L807.5 590.6L810 590.5L812.5 589.6L815 587.6L817.5 588L820 587L822.5 585.3L825 585.1L827.5 584.1L830 583.1L832.5 583.1L835 583L837.5 581.3L840 581.4L842.5 580.3L844.9 578.6L847.1 578.7L849.4 577.4L852 576.8L855 575.3L857.3 574.4L859.9 572.9L862.6 572.4L865.5 571.4L868.4 570.1L871.1 568.6L873.7 568L876 567L879 565.8L881.6 565.3L883.9 565.1L886.1 565L888.5 564.6L890.8 564.5L892.9 564.2L895.1 563.6L897.7 562.9L901 562.6L903 562.1L905.4 562L908 562L910.7 561.4L913.5 560.9L916.3 561.4L919 561L921.6 560.4L924 560.1L926 560L928.9 559.5L930.7 558.5L932.3 557.7L934.6 557.5L938.5 557.8L940.2 557.1L942.2 557.5L944.2 557.2L946.4 557.3L948.7 557.4L951.1 557.7L953.6 557.6L956.2 557.6L958.9 557.8L961.6 558L964.5 558.4L967.3 558.1L970.2 558.2L973.1 558.7L976 558.7L978.2 559L980.5 558.4L982.8 558.8L985.2 558.8L987.6 558.4L990.1 559.3L992.6 558.5L995.1 558.4L997.6 558.8L1000.2 558.4L1002.8 558.9L1005.4 558.6L1008 558.4L1010.6 558.3L1013.2 558.9L1015.8 558.5L1018.4 559L1020.9 558.7L1023.5 559.2L1026 558.6L1028.5 558.6L1031 558.7L1033.5 559.3L1036 559.2L1038.5 558.9L1041 558.8L1043.5 559.4L1046 559.8L1048.5 559.5L1051 559L1053.5 559.2L1056 559.3L1058.5 559.5L1061 559.5L1063.5 559.6L1066 560.3L1068.5 560.6L1071 560L1073.5 560.9L1076 560.5L1078.5 560.9L1081 561.1L1083.5 561.2L1086 560.4L1088.5 560.8L1091 561.2L1093.5 561.7L1096 560.9L1098.5 561.3L1101 561.9L1103.5 561.3L1106 561.7L1108.5 561.7L1111 562.2L1113.5 562.5L1116 561.9L1118.5 562.5L1121 562.6L1123.5 562.8L1126 562.6L1128.5 563L1131 562.5L1133.5 562.6L1136 562.4L1138.5 563L1141 562.7L1143.5 562.5L1146 562.5L1148.5 563L1151 562.9L1153.5 563L1156 562.7L1158.5 562.8L1161 562.5L1163.5 563.1L1166 562.4L1168.5 562.9L1171 563.2L1173.5 563.1L1176 562.6L1178.5 562.8L1181 563.4L1183.5 563.2L1186 563.5L1188.5 563.5L1191 563.2L1193.5 563.6L1196 563.5L1198.5 563.2L1201 563.2L1203.5 563L1206 563.3L1208.5 563.9L1211 563.1L1213.5 563.6L1216 563.2L1218.5 563.2L1221 563.9L1223.5 563.5L1226 563.3L1228.5 563.5L1231.1 564L1233.7 564L1236.4 563.5L1239.1 563.8L1241.8 564.6L1244.5 563.9L1247.2 564.3L1249.9 564.2L1252.6 564.6L1255.2 564.5L1257.8 564.7L1260.3 564.5L1262.8 564.2L1265.3 564.3L1267.6 564.2L1269.9 565.1L1272 564.4L1274.1 564.4L1276 565.5L1279.5 564.9L1282.6 565.8L1285.3 565.2L1287.8 565.8L1290.1 565.9L1292.2 566.7L1294.3 566.8L1296.4 567.1L1298.6 567.5L1301 567.9L1303.5 567.6L1306 568.1L1308.5 568.3L1311 568.2L1313.5 569.2L1316 569.3L1318.5 569.8L1321 569.5L1323.5 570.2L1326 570.5L1328.5 571.1L1331 570.9L1333.5 571.5L1336 572.1L1338.5 572.1L1341 573.1L1343.5 573.7L1346 573.9L1348.5 574.6L1351 575.1L1353.5 575.3L1356 576L1358.5 577.2L1361 577.1L1363.5 577.8L1366 578.1L1368.5 578.9L1371 579.5L1373.5 580.9L1376 581.4L1378.5 582.3L1381 583.1L1383.5 583.5L1386 584.5L1388.5 584.9L1391 585.5L1393.5 586.8L1396 587.6L1398.5 588.4L1401 588.8L1403.5 589.9L1406 590.3L1408.5 591.7L1411 592.5L1413.5 592.7L1416 594.2L1418.5 594.3L1421 595.2L1423.5 596.7L1426 597.3L1428.5 598.5L1431.1 599.7L1433.6 600.2L1436.2 602L1438.8 602.7L1441.3 604L1443.8 605.1L1446.3 606.7L1448.7 607.9L1451 608.6L1453.5 609.7L1455.9 611.2L1458.1 612.5L1460.4 613.5L1462.6 614.8L1464.9 616.8L1467.1 618.2L1469.5 620L1472 621.7L1473.9 622.9L1475.9 623.8L1478 625L1480 626.7L1482.1 628.4L1484.2 630L1486.4 631.6L1488.5 633.1L1490.7 635.2L1492.8 636.4L1494.9 638.2L1497 640.4L1498.9 641.9L1500.9 643.1L1502.9 644.7L1504.9 647.1L1506.9 648L1508.9 650L1510.9 652.1L1512.9 653.9L1514.8 655.4L1516.7 657L1518.5 658.9L1520.3 661.1L1522 662.5L1524.1 665.1L1526.1 666.9L1528.1 669.2L1530 670.3L1531.8 672.4L1533.5 674.2L1535.2 676.5L1536.9 678.2L1538.5 679.7L1540 681.8L1542.1 683.6L1543.9 685.9L1545.7 687.7L1547.3 690L1549 691.4L1550.6 693.1L1552.3 694.8L1554.1 697.3L1555.8 699.5L1557.6 701.6L1559.3 704L1561.1 706L1562.8 707.6L1564.6 709.6L1566.1 712.2L1567.7 714.2L1569.2 715.9L1570.8 718.2L1572.3 720L1573.8 721.7L1575.4 723.7L1576.9 725.5L1578.4 728.1L1580 730.4L1581.5 732.4L1583 734L1584.5 736.2L1586 738.4L1587.6 740.3L1589.1 742.1L1590.6 743.9L1592.2 746L1593.7 747.6L1595.2 749.6L1596.8 752L1598.3 754.3L1599.9 755.9L1601.4 757.8L1602.9 759.8L1604.4 762L1605.9 764.4L1607.4 766.1L1608.9 768.8L1610.4 770.2L1612 772.6L1613.7 775.1L1615.1 777L1616.6 779.5L1618.2 781.5L1619.8 783.8L1621.4 785.7L1623 787.3L1624.6 790L1626.2 792L1627.7 794L1629.1 795.8L1630.8 798.5L1632.4 801L1633.9 802.4L1635.4 805.1L1636.9 806.9L1638.4 809.1L1639.9 811.5L1641.4 813.7L1642.9 815.4L1644.5 817L1646 819.7L1647.6 821L1649.1 823.2L1650.6 825.6L1652.2 827L1653.7 828.9L1655.5 831.7L1657.2 833.9L1659 835.3L1660.7 837.5L1662.5 839.5L1664.2 841.4L1666 843.7L1667.8 846.5L1669.5 847.7L1671.3 849.9L1673 852L1674.8 854L1676.5 856.5L1678.3 858.8L1680.1 861.1L1681.8 863L1683.6 865.4L1685.3 866.7L1687.1 869.1L1688.8 871.9L1690.6 873.1L1692.4 875.3L1694.1 877.5L1695.9 879.3L1697.6 881.5L1699.4 882.9L1701.1 884.9L1702.9 887.5L1704.9 888.7L1707 891.5L1709 892.7L1711 895.4L1713.1 896.9L1715.1 898.6L1717.1 899.9L1719.2 901.4L1721.2 903.7L1723.3 904.7L1725.3 906.2L1727.4 908.3L1729.8 910.1L1732.2 911L1734.7 913.6L1737.1 914.8L1739.7 916.4L1742 917.6L1744.3 919.4L1746.7 921.6L1749.1 922.4L1751.4 923.8L1753.7 925.1L1756.3 926.6L1758.7 928.2L1761.2 930.1L1763.6 930.5L1766 931.9L1768.5 933.9L1770.9 935.2L1773.4 936.5L1775.8 937L1778.3 938.3L1780.8 940L1783.2 940.7L1785.7 942L1788.1 942.7L1790.6 943.4L1793.1 944.8L1795.5 946.2L1798 947.2L1800.4 947.9L1802.9 948.8L1805.3 949.7L1807.8 950.5L1810.2 951.5L1812.7 952.6L1815.1 952.8L1817.6 954L1820 955.1L1822.5 955.7L1824.9 955.8L1827.4 957.3L1829.8 957.8L1832.2 957.8L1834.6 958.5L1837 959L1839.7 959.5L1842.1 960.9L1844.5 960.8L1847.1 961.8L1849.7 961.5L1852.3 961.9L1855 963.2L1857.6 963.5L1860.2 964L1862.9 964.1L1865.7 964.3L1868.7 964.9L1872 964.6L1874.2 965.3L1876.5 965.5L1878.9 965.5L1881.4 966.3L1884 966.3L1886.6 966.8L1889.2 967L1891.9 967.2L1894.5 967.6L1897 968.1L1899.5 968.7L1902 968.9L1904.5 969.1L1907 969.3L1909.5 968.9L1912 969.9L1914.5 969.4L1917 969.5L1919.5 970.2L1922 970.7L1924.5 970.7L1927 971.4L1929.5 971.5L1932 972.6L1934.5 972.6L1937 973.1L1939.5 973.6L1942 974.4L1944.5 975L1947 975L1949.5 975.4L1952 976L1954.5 975.9L1957 976.7L1959.5 977.6L1962 978L1964.5 977.7L1967 979L1969.5 979L1972 980L1974.5 979.8L1976.9 979.9L1979.2 980.6L1981.6 981.2L1983.9 981.1L1986.3 981.8L1988.8 982.1L1991.4 982.2L1994.1 982.6L1997 983.5L1999.2 983.9L2001.4 984.5L2003.7 985.5L2006 986.4L2008.4 986.8L2010.9 987.1L2013.4 988L2015.9 989L2018.4 990L2021 990.3L2023.5 991.1L2026.1 992.1L2028.6 992.8L2031.1 993.3L2033.6 994.6L2036.1 995.7L2038.6 996L2041.2 997L2043.7 997.8L2046.3 998.6L2048.8 999.4L2051.4 999.7L2053.9 1000.6L2056.5 1000.8L2059 1002.2L2061.6 1002.3L2064.2 1003L2066.7 1004L2069.2 1003.9L2071.8 1004.3L2074.3 1005.4L2076.9 1005.5L2079.4 1005.4L2082 1005.7L2084.5 1006.4L2087 1006.4L2089.6 1007.5L2092.1 1007.2L2094.7 1007.6L2097.2 1008.1L2099.8 1008.5L2102.3 1008.8L2104.9 1009.4L2107.5 1009.8L2110.3 1010L2113 1010.1L2115.8 1011.4L2118.5 1011.5L2121.2 1011.3L2123.9 1012.1L2126.5 1012.8L2129 1013.4L2131.4 1012.9L2133.7 1013.2L2135.8 1014L2137.8 1014.2L2141.7 1015.4L2144.8 1015.9L2147.3 1016L2149.6 1016.5L2151.9 1017L2154.4 1017.6L2156.8 1016.9L2158.8 1016.9L2160.8 1016.3L2163.1 1016.6L2166.1 1015.9L2170 1017L2171.9 1016.8L2174.1 1017.1L2176.4 1017L2178.8 1017.5L2181.4 1018.1L2184.1 1018.9L2186.9 1019L2189.7 1019.2L2192.5 1020.4L2195.4 1020.5L2198.2 1020.8L2201 1020.9L2203.8 1021.4L2206.5 1022.4L2209 1021.9L2211.6 1022.7L2214.3 1023L2216.9 1023.1L2219.4 1023.8L2222 1024.2L2224.5 1024.4L2227.1 1024.5L2229.6 1024.2L2232.1 1024.3L2234.6 1024.9L2237.1 1025L2239.5 1025.1L2242 1026L2244.5 1025.5L2247.3 1026.4L2250.2 1026.7L2253.1 1026.2L2256.2 1027.2L2259.2 1026.9L2262.2 1027L2265.2 1027.2L2268 1027.2L2270.6 1027.9L2273 1028L2275.2 1028.6L2277 1028.7L2278.5 1028.5L2283.5 1028.0"/>
<path stroke="#70AD47" d="M286.7 975L288.2 972.4L288.9 971.3L289.7 968.2L290.7 965.1L291.6 962.8L292.5 960.8L293 958.3L293.4 955.9L293.9 952L294.3 950.3L294.7 947.1L295.2 944.2L295.7 941.3L296.2 939L296.7 938.4L297.2 935.6L297.8 933L298.4 930.4L299 926.2L299.6 923.9L300.1 922.2L300.7 920.1L301.2 918.1L301.8 915.4L302.3 910.8L302.8 909.7L303.4 907.4L303.9 904.6L304.4 901.4L305 899.7L305.7 896.2L306.3 895.8L307.1 892.9L307.8 889.5L308.5 886.3L309.3 885.5L310 882.5L311.2 879.9L312.4 876.8L313.7 873.3L315 870.9L317 869.1L319.1 867.1L321.2 865.2L324.4 864.1L327.4 865.6L328.7 865.2L330 867.6L331.2 871.7L332.4 873L334.1 875.8L335.8 877.5L337.4 879.4L338.4 883.5L339.2 884.2L340.1 887.4L341.1 889L343.6 892.2L346.1 892.9L348 896.5L349.9 900.4L352.2 900.4L354.9 900.5L356.9 900L359.1 895.7L361.1 892.4L362 890.7L362.9 889.7L363.7 886.7L364.5 882.8L365.3 880L366.1 876.5L366.7 875L367.2 871.7L367.8 871.1L368.4 869.2L369 866.8L369.5 863.7L370.1 861.6L370.6 856.4L371.1 854.3L371.5 853.8L371.8 851L372.1 847.7L372.4 846.6L372.7 843.3L373 841.3L373.3 837.4L373.6 834.5L373.9 832.6L374.2 829.2L374.5 827.2L374.8 826.1L375.1 822L375.4 818.8L375.7 816.4L376 814.2L376.3 813.3L376.6 809.7L376.8 807L377.1 804L377.4 803.7L377.7 799.7L378 796.7L378.3 793.8L378.6 791.2L378.9 789.1L379.2 788L379.4 784.3L379.7 781.7L380 780.6L380.2 777.7L380.5 777.3L380.8 772.6L381.1 771.2L381.3 769.2L381.6 765.6L382 764.3L382.3 759.9L382.5 757.2L382.8 755.4L383 752.1L383.3 750.7L383.6 747.7L383.8 746.9L384.1 744.1L384.4 740.7L384.7 736.8L385 734.8L385.2 732.1L385.5 729.3L385.8 726.8L386.1 725.8L386.4 721.3L386.7 718.6L387 718.4L387.2 715L387.5 713.8L387.8 709.5L388.1 708.2L388.4 704.9L388.8 702.7L389.1 700L389.4 696.9L389.7 693.3L390 691.2L390.3 690.5L390.6 688.1L390.9 685.7L391.3 681.8L391.6 680.2L391.9 678.2L392.2 675.3L392.5 673.3L392.8 670L393.2 667.7L393.5 665.2L393.8 661.5L394.2 660.6L394.5 658.1L394.8 653.2L395.2 653L395.5 650.4L395.8 647.1L396.2 642.9L396.5 642.6L396.8 638.1L397.2 637.7L397.5 634.4L397.9 630.2L398.2 627.8L398.6 626.4L399 623.6L399.4 621.4L399.7 619.3L400.1 614.8L400.5 611.6L400.8 611.4L401.2 606.4L401.6 606L402 601.4L402.3 600.5L402.7 597.7L403 595.5L403.4 592.1L403.7 590.4L404 586.1L404.3 584.8L404.7 581.3L405 580.2L405.3 577.4L405.6 574L406 571.5L406.3 567.6L406.6 564.9L407 563.7L407.3 560.7L407.7 558.9L408 555.8L408.4 552.1L408.7 550.1L409 548.6L409.4 545.3L409.8 541.3L410.1 540.8L410.5 538.1L410.8 533.5L411.2 532.1L411.6 529L411.9 527.4L412.3 523.6L412.6 520.8L413 518.9L413.4 517.7L413.7 512.9L414.1 510.3L414.5 508.9L414.9 507L415.3 503.4L415.6 500.6L416 499.2L416.4 496.4L416.8 492.1L417.2 491.7L417.6 487.4L417.9 485.2L418.3 484.2L418.7 480.7L419.1 479.2L419.5 475.1L419.9 474.4L420.3 470L420.8 467.4L421.2 465.7L421.6 462.8L422.1 460.8L422.5 459.3L422.9 456.3L423.3 452L423.8 450.4L424.2 448.5L424.6 445.9L425.1 444L425.5 441L426 437.2L426.4 435L426.9 433.9L427.3 430L427.8 428.4L428.3 426.3L428.7 422.7L429.2 420.2L429.7 417.4L430.1 414.1L430.6 413.1L431 409.4L431.5 408.1L432 403.8L432.5 402.6L433 399.7L433.6 396.6L434.1 393.5L434.6 390.1L435.1 389.2L435.6 385.7L436.1 384.1L436.6 380.4L437.1 378L437.5 376.1L438.2 374.5L438.9 369.7L439.6 368.8L440.2 364.7L440.8 362.8L441.4 359.9L442 358.3L442.7 354.2L443.4 352.6L444.1 351.9L444.8 347.7L445.5 346.4L446.2 343.1L446.9 340.5L447.7 337.1L448.4 334.3L449.2 334L450 330.9L450.7 328.3L451.4 325.8L452.1 323.7L452.8 319L453.6 317.6L454.3 314.9L455 312.7L455.8 311L456.6 308.1L457.4 306.2L458.2 301.6L459.1 300.5L460 298L460.8 295.8L461.7 293L462.6 291L463.5 287.1L464.4 286.2L465.3 282.3L466.2 280.3L467.1 278.5L468 275.3L469 271.5L469.9 268.7L470.8 266.4L471.7 264.9L472.5 263.8L473.8 260.8L474.9 257.4L476.1 255.6L477.5 254.6L478.8 251.3L480.3 249.7L481.9 246.6L483.5 245L485 243.9L486.5 242.2L488 239.8L489.5 237L491 236.6L492.5 234.1L495 231.3L497.5 230.1L500 231.2L502.5 229.2L505 226.7L507.5 224.1L510 222.7L512.5 222.1L515 221.9L517.5 220L520 219.5L522.5 217.2L525.1 215L527.7 211.6L530 210.5L532.7 210.2L535 211.2L536.6 206.8L538.2 205.3L540 203L543 203.3L546.2 205L548.2 201.1L550.1 198.8L552.5 195.3L554.8 193.9L557.5 192.7L560.2 192.8L562.5 192L565.8 193.6L568.8 197.5L571.2 194.2L573.8 193.4L576.2 191.7L578.3 192.6L580.4 194.4L582.5 197.4L584.3 199L586.2 200.6L588.1 202.2L590 204.3L592.6 206.2L595.2 207.4L597.5 208.8L600 210.7L602.5 214.7L604.7 213.9L607.2 212.5L610 212.9L612.4 215.7L614.9 215.5L617.5 217.3L620 219.3L623.1 220.6L626.1 219.8L628.8 220.9L631 222.8L632.9 224L635 228.5L637.4 228.3L640 232.7L642.5 232.9L644.2 234.8L645.8 238.7L647.3 240.8L648.8 241.8L649.9 244.9L650.8 247L651.8 250.2L652.7 251.5L653.8 255.8L654.8 258.6L655.8 260.3L656.8 263.4L657.9 266L659 267.1L660 270.9L661 273.4L662.1 275.3L663.1 276.7L664.1 280.7L665.2 284.3L666.2 285.7L667 289L667.8 292.2L668.6 294L669.4 295.3L670.2 299.5L671 301.3L671.7 305.7L672.5 307.9L673.2 309.4L673.8 313.4L674.5 315.1L675.2 316.9L675.8 320.6L676.5 323.3L677.1 325.8L677.8 328.4L678.4 330.4L679 332.9L679.5 335.1L680.1 337.4L680.7 341.1L681.2 342L681.8 343.8L682.3 348L682.9 350L683.4 352.6L684 355.3L684.6 356.8L685.1 359.2L685.7 361.3L686.3 365.6L686.9 368.4L687.5 370.3L688 371.3L688.6 376.1L689.2 378.2L689.8 380L690.3 381.1L690.9 385.7L691.4 387.6L691.9 390L692.4 390.9L692.9 395.3L693.5 396L694 399.7L694.6 401.4L695.2 404.5L695.8 408.5L696.4 410.5L697 413.1L697.6 414.1L698.2 416.7L698.8 419.7L699.4 420.7L700.1 424.1L700.7 428.1L701.4 430.1L702.1 433L702.8 434.2L703.5 438L704.1 440.6L704.7 442.8L705.3 444.7L706 446.7L706.6 449L707.3 453.9L708 456.8L708.6 457.8L709.3 461.7L710 463.5L710.6 466.6L711.2 469.5L711.8 470.5L712.4 473.4L713 474.4L714.1 478.6L715.2 480.3L716.1 483.3L717.1 485.5L718 489.1L719 489.3L720 493.1L721 494L722.1 498.7L723.2 499.2L724.3 501.5L725.3 504.3L726.4 508.5L727.5 510.4L728.6 513.5L729.6 515.1L730.7 516.9L731.8 520L732.9 522.8L733.9 526.4L735 526.7L736.5 529.8L738 533.9L739.5 534.7L741 539L742.5 539.5L744.4 542.3L746.2 544.3L748.1 546.6L750 546.6L751.8 550.5L753.6 551.5L755.4 554.9L757.5 555.2L759.9 557.8L762.4 557.1L765 557.6L767.5 557.8L770.7 559.6L773.8 560.9L776.2 563.5L778.8 566.4L779.2 564.2L779.5 562.4L780 557.7L781.2 555.6L783.4 556.4L786.2 556.6L789.4 556.5L792.5 557.1L794.9 555.1L797.4 556.2L799.9 555.3L802.5 554.6L805 554.4L807.5 552.6L810 552.4L812.5 551.8L815 551.8L817.5 551.3L820 550.4L822.5 549.1L825 548.7L827.5 547.8L830 546.6L832.5 544.5L835 543.7L837.5 542.8L840 541.8L842.5 541.3L845 539.8L847.5 539.4L850 538L852.5 537L855 536.5L857.6 535.8L860.2 533.7L862.8 532.9L865.3 532.7L867.5 530.8L870.6 529.3L873.2 528.4L876 527.9L878.4 526.6L880.9 525.4L883.5 523.6L886 522L888.3 521.5L890.5 521.3L893 520.4L896 519.6L898 519.6L900.2 519.4L902.6 519L905.1 518.8L907.7 518.2L910.5 517.8L913.5 518.3L915.6 518L917.8 517.5L920.1 517L922.4 517L924.8 517.1L927.2 517.3L929.8 516.7L932.6 517L935.5 516.4L938.5 515.9L940.6 516.2L942.8 516.1L945 516L947.3 516.1L949.6 515.3L952 515.7L954.4 515.9L956.9 515.2L959.5 515.1L962.1 515.1L964.8 515.1L967.5 515.2L970.3 515L973.1 515.2L976 514.7L978.2 514.8L980.5 515L982.8 514.8L985.2 515.1L987.6 514.9L990.1 514.1L992.6 514.1L995.1 514.2L997.6 514L1000.2 513.7L1002.8 514.1L1005.4 513.3L1008 513.5L1010.6 513L1013.2 513.7L1015.8 513.3L1018.4 513.6L1020.9 512.7L1023.5 513.2L1026 513.1L1028.5 512.5L1031 513.3L1033.5 513.3L1036 512.6L1038.5 513.4L1041 513.3L1043.5 513.2L1046 513.1L1048.5 512.9L1051 512.8L1053.5 513.2L1056 513.7L1058.5 513.1L1061 513.4L1063.5 513.3L1066 513.8L1068.5 514.1L1071 514.1L1073.5 513.5L1076 513.7L1078.5 513.4L1081 513.9L1083.5 514.3L1086 514.4L1088.5 513.7L1091 514.1L1093.5 513.8L1096 514.3L1098.5 514.8L1101 514.3L1103.5 514.9L1106 515.1L1108.5 515L1111 514.5L1113.5 515.2L1116 515.3L1118.5 515.4L1121 514.5L1123.5 514.5L1126 514.8L1128.5 515L1131 514.9L1133.5 514.6L1136 515.1L1138.5 515.2L1141 515.1L1143.5 514.9L1146 514.9L1148.5 515.1L1151 514.4L1153.5 514.7L1156 514.4L1158.5 514.3L1161 514.9L1163.5 514.5L1166 514.4L1168.5 514.3L1171 514.6L1173.5 514.1L1176 514.6L1178.5 514.1L1181 514.9L1183.5 514.1L1186 514.7L1188.5 514.5L1191 514.4L1193.5 514.2L1196 514.3L1198.5 514.7L1201 514.5L1203.5 514.5L1206 514.2L1208.5 514.6L1211 514.1L1213.5 514.4L1216 514.6L1218.5 514.5L1221 514.6L1223.5 514.6L1226 514.2L1228.5 515L1231.1 514.7L1233.7 514.8L1236.4 515L1239.1 514.5L1241.8 514.4L1244.5 514.4L1247.2 514.4L1249.9 514.5L1252.6 514.5L1255.2 514.4L1257.8 514.7L1260.3 514.5L1262.8 514.7L1265.3 515L1267.6 514.7L1269.9 515.2L1272 515.2L1274.1 514.8L1276 515.3L1279.5 514.8L1282.6 514.8L1285.3 515.7L1287.8 514.9L1290.1 514.9L1292.2 515.9L1294.3 515.2L1296.4 516L1298.6 516L1301 515.9L1303.5 516.2L1306 517.2L1308.5 516.9L1311 517L1313.5 517.6L1316 518.2L1318.5 518.1L1321 518.3L1323.5 519.4L1326 519.1L1328.5 519.5L1331 519.8L1333.5 521.3L1336 521.2L1338.5 522L1341 522.3L1343.5 523.2L1346 523.1L1348.5 523.6L1351 524.5L1353.5 524.4L1356 525.3L1358.5 526.2L1361 526.6L1363.5 527.1L1366 528.2L1368.5 528.3L1371 529.3L1373.5 529.7L1376 530.1L1378.5 531.2L1381 531.8L1383.5 532.4L1386 533.6L1388.5 534.3L1391 535.5L1393.5 536.7L1396 537.7L1398.5 538.7L1401 539.1L1403.5 540.4L1406 541.6L1408.5 542.1L1411 543.5L1413.5 543.7L1416 545.5L1418.5 546.5L1421 547.6L1423.5 548.5L1426 549.4L1428.5 550.2L1431.1 551.5L1433.6 552.7L1436.2 553.5L1438.8 554.6L1441.3 556L1443.8 556.5L1446.3 557.7L1448.7 558.6L1451 560.6L1453.6 561.7L1456.1 563.2L1458.7 564.2L1461.2 565.6L1463.6 567.4L1465.9 569.3L1468.1 570.2L1470.1 571.6L1472 572.9L1474.8 575.4L1477 576.5L1478.9 579L1480.8 579.9L1483 582.5L1484.9 584L1486.8 585.2L1488.8 586.9L1490.9 588L1493 589.4L1495 591.2L1497 592.8L1498.9 595L1500.8 596.6L1502.7 598.6L1504.6 600.9L1506.4 602.6L1508.2 604.5L1510 606.5L1512 608.4L1514 610.1L1515.9 611.5L1517.8 613.6L1519.8 615.9L1522 618.3L1523.5 620.1L1525.1 621.8L1526.7 623.6L1528.4 625.2L1530.1 627.6L1531.8 629.3L1533.5 632L1535.3 633.7L1537 635.8L1538.4 638.6L1539.8 640.5L1541.3 641.9L1542.7 643.7L1544.1 646.5L1545.6 648.5L1547 650L1548.5 652.8L1550 655L1551.4 656.9L1552.9 658.8L1554.3 660.6L1555.6 662.6L1557 665L1558.4 667.4L1559.8 669.3L1561.2 671L1562.5 673.7L1563.9 675.1L1565.3 677.7L1566.7 679.4L1568.1 681.4L1569.5 683.7L1570.9 686.4L1572.3 688L1573.7 689.9L1575.1 692.6L1576.6 694.6L1578 697L1579.4 699.2L1580.8 701.5L1582.1 703.9L1583.5 705.5L1584.8 707.9L1586.1 709.5L1587.5 712L1588.8 714.1L1590.1 717.2L1591.4 718.9L1592.6 721.6L1593.9 724L1595.1 725.8L1596.3 727.9L1597.6 730.2L1598.8 732.7L1600 734.9L1601.2 736.8L1602.4 739.9L1603.6 742L1604.8 744.5L1606 746.7L1607.2 748.9L1608.4 751.3L1609.6 753.4L1610.8 755.4L1612 758.1L1613.2 760.4L1614.4 761.9L1615.6 764.2L1616.8 766.4L1618 769L1619.2 771.6L1620.4 773.5L1621.7 776.1L1622.9 777.9L1624.1 780.3L1625.3 782.3L1626.5 784.9L1627.7 786.8L1628.9 788.9L1630.2 791.5L1631.4 794L1632.6 796.6L1633.8 798.3L1635 801.2L1636.3 803.4L1637.5 805L1638.7 807.9L1639.9 810.3L1641.1 812.6L1642.3 814.7L1643.5 816.6L1644.7 819.1L1645.9 821.5L1647 823.7L1648.2 825.6L1649.4 828.5L1650.6 830.5L1651.8 832.3L1653 834.8L1654.2 836.9L1655.4 839.5L1656.6 841.4L1657.8 844.1L1659 846.1L1660.2 849L1661.4 851.2L1662.6 852.9L1663.8 855.8L1665.1 857.8L1666.3 859.8L1667.6 862.7L1668.8 864.1L1670.1 866.7L1671.4 869.2L1672.6 871L1673.9 873.6L1675.2 876.3L1676.5 878L1677.9 880.7L1679.2 882.4L1680.5 885.5L1681.8 887.7L1683.2 889.2L1684.5 892.1L1685.8 893.9L1687.2 895.8L1688.5 898.3L1689.9 901.1L1691.3 903.1L1692.7 905.4L1694.1 907.3L1695.5 909.6L1696.8 911.9L1698.1 914.1L1699.5 916.5L1700.8 918.2L1702.2 920.2L1703.6 922.9L1704.9 924.7L1706.3 926.9L1707.7 929L1709.1 930.8L1710.6 932.7L1712 934.6L1713.5 937.3L1715 939.6L1716.5 941.9L1718.1 944.2L1719.7 946L1721.3 948.2L1722.9 950.9L1724.4 952.1L1725.9 954.4L1727.4 956.6L1728.7 958.4L1730 960.1L1732 962.2L1733.7 964.8L1735.3 966.4L1736.8 968.3L1738.3 969.8L1739.8 971.5L1741.4 973.5L1743.4 975.3L1745.4 977L1747.5 979.2L1749.6 981.2L1751.6 982.5L1753.7 984.2L1755.8 985.9L1757.8 987.7L1759.8 988.5L1761.9 990.5L1764 991.2L1766 993.4L1768.5 994.3L1770.9 996.4L1773.4 997.1L1775.8 999L1778.3 1000.2L1780.8 1002L1783.2 1003.3L1785.7 1003.8L1788.1 1004.9L1790.6 1006.7L1793.1 1007.5L1795.5 1008.4L1798 1009.4L1800.4 1010.3L1802.9 1011.5L1805.3 1012.2L1807.8 1012.8L1810.2 1014L1812.7 1015.4L1815.1 1016L1817.6 1016.7L1820 1017.7L1822.5 1017.9L1824.9 1018.6L1827.4 1019.7L1829.9 1019.7L1832.4 1021L1834.9 1021L1837.4 1022.1L1839.7 1022.5L1842.4 1023.3L1844.9 1023.1L1847.4 1024.1L1850 1024.6L1852.7 1024.2L1855.4 1025.2L1858.4 1025L1862 1025.7L1864.2 1026.1L1866.6 1025.3L1869.1 1025.8L1871.8 1026L1874.5 1026.6L1877.2 1026.6L1879.7 1025.8L1882 1025.8L1884.8 1026L1887.4 1026.1L1889.8 1025.7L1892.2 1025.1L1894.6 1025.2L1897 1024.8L1899.5 1024.7L1902 1024.2L1904.5 1023.7L1907 1024.1L1909.5 1024L1912 1024.2L1914.5 1023.6L1917.1 1023.6L1919.7 1024.1L1922.2 1024.3L1924.6 1024.8L1927 1025.1L1929.5 1026.6L1931.8 1027.6L1934.1 1028.8L1936.6 1029.9L1939.5 1031.3L1941.6 1031.2L1943.8 1032.2L1946.1 1031.8L1948.6 1032.5L1951.1 1031.8L1953.8 1032.2L1956.6 1032.6L1959.5 1032.5L1961.9 1032.6L1964.5 1033.1L1967.1 1032.6L1969.9 1033.4L1972.7 1033.2L1975.5 1033.1L1978.3 1033.3L1981.2 1033.3L1984 1033.8L1986.7 1033.7L1989.4 1033.9L1992.3 1034.1L1995.1 1034.3L1998 1034.2L2000.9 1033.8L2003.6 1034.2L2006.3 1034.3L2008.9 1034.7L2011.2 1034.3L2013.4 1034.7L2016.4 1035.6L2018.8 1036L2020.8 1037L2022.8 1038.3L2025 1039L2027.6 1040.3L2029.9 1040.4L2032.3 1040.8L2034.8 1041.7L2037.5 1042.1L2040.2 1042.9L2043 1043.3L2045.9 1043.2L2048.9 1043.5L2051.4 1044L2053.9 1044.1L2056.5 1044.4L2059.2 1044.4L2061.9 1045.1L2064.7 1045.3L2067.4 1045.3L2070.2 1045.4L2072.9 1045.7L2075.6 1045.2L2078.2 1045.9L2080.8 1045.3L2083.3 1045.2L2085.9 1045.7L2088.4 1045.4L2091 1045.5L2093.6 1045.8L2096.4 1045.3L2099.3 1045.5L2102.3 1045.3L2104.6 1045.7L2106.9 1044.7L2109.3 1044.9L2111.8 1044.6L2114.3 1044L2116.9 1044L2119.5 1043.7L2122.1 1043.4L2124.8 1043.3L2127.4 1043L2130 1042.6L2132.6 1042.3L2135.2 1042.2L2137.8 1041.8L2140.3 1041.2L2142.9 1041.5L2145.4 1041L2148 1041.1L2150.5 1040.2L2153.1 1040.3L2155.6 1039.8L2158.1 1039.9L2160.7 1039.9L2163.2 1039.5L2165.8 1039.1L2168.3 1039.2L2170.9 1038.3L2173.4 1038.8L2175.9 1038L2178.5 1037.9L2181 1037.1L2183.6 1036.8L2186.1 1036.6L2188.7 1036.8L2191.2 1036.2L2193.7 1036.5L2196.3 1035.6L2198.8 1035.8L2201.4 1035.8L2203.9 1035.4L2206.5 1035.4L2209 1035L2211.5 1034.8L2214.1 1033.8L2216.6 1034.1L2219.2 1033.7L2221.7 1033.6L2224.3 1033.7L2226.8 1033.5L2229.4 1032.8L2231.9 1032.6L2234.4 1032.3L2237 1032.8L2239.5 1032.7L2242 1031.8L2244.5 1031.6L2247.3 1031.4L2250.2 1032L2253.2 1030.8L2256.3 1031.1L2259.4 1031.1L2262.5 1030.1L2265.4 1030.4L2268.3 1029.8L2271 1029.9L2273.4 1029.5L2275.6 1028.9L2277.5 1029.5L2279 1029L2284 1029.4"/>
</g>
<text class="t" transform="translate(222.2 1212.2) scale(1 1.055)" text-anchor="end">-0.2</text>
<text class="t" transform="translate(222.2 1052.5) scale(1 1.055)" text-anchor="end">0</text>
<text class="t" transform="translate(222.2 892.8) scale(1 1.055)" text-anchor="end">0.2</text>
<text class="t" transform="translate(222.2 733.0) scale(1 1.055)" text-anchor="end">0.4</text>
<text class="t" transform="translate(222.2 573.3) scale(1 1.055)" text-anchor="end">0.6</text>
<text class="t" transform="translate(222.2 413.6) scale(1 1.055)" text-anchor="end">0.8</text>
<text class="t" transform="translate(222.2 253.9) scale(1 1.055)" text-anchor="end">1</text>
<text class="t" transform="translate(222.2 94.1) scale(1 1.055)" text-anchor="end">1.2</text>
<text class="t" transform="translate(286.5 1140.8) scale(1 1.055)" text-anchor="middle">200</text>
<text class="t" transform="translate(618.5 1140.8) scale(1 1.055)" text-anchor="middle">300</text>
<text class="t" transform="translate(950.5 1140.8) scale(1 1.055)" text-anchor="middle">400</text>
<text class="t" transform="translate(1282.5 1140.8) scale(1 1.055)" text-anchor="middle">500</text>
<text class="t" transform="translate(1614.5 1140.8) scale(1 1.055)" text-anchor="middle">600</text>
<text class="t" transform="translate(1946.5 1140.8) scale(1 1.055)" text-anchor="middle">700</text>
<text class="t" transform="translate(2278.5 1140.8) scale(1 1.055)" text-anchor="middle">800</text>
<text class="b" transform="translate(63.8 630.3) rotate(-90)" text-anchor="middle">Abs</text>
<text class="b" transform="translate(1225 1271) scale(-1 1)" x="0" y="0">λ</text>
<text class="b" x="1224.5" y="1271">(nm)</text>
<rect x="1755.8" y="20.4" width="613.9" height="396.6" fill="#fff" stroke="#000" stroke-width="6.8"/>
<path d="M1790 69.8 H1949.5" stroke="#4472C4" stroke-width="8" stroke-linecap="round" fill="none"/>
<text class="t" style="font-size:75.5px" x="1966.5" y="93.6">Trad (CaF2)</text>
<path d="M1790 169.4 H1949.5" stroke="#ED7D31" stroke-width="8" stroke-linecap="round" fill="none"/>
<text class="t" style="font-size:75.5px" x="1966.5" y="192.8">Trad (Mix)</text>
<path d="M1790 268.8 H1949.5" stroke="#7030A0" stroke-width="8" stroke-linecap="round" fill="none"/>
<text class="t" style="font-size:75.5px" x="1966.5" y="292.1">Cop (CaF2)</text>
<path d="M1790 368.0 H1949.5" stroke="#70AD47" stroke-width="8" stroke-linecap="round" fill="none"/>
<text class="t" style="font-size:75.5px" x="1966.5" y="391.3">Cop (Mix)</text>
</svg>
</body>
</html>
